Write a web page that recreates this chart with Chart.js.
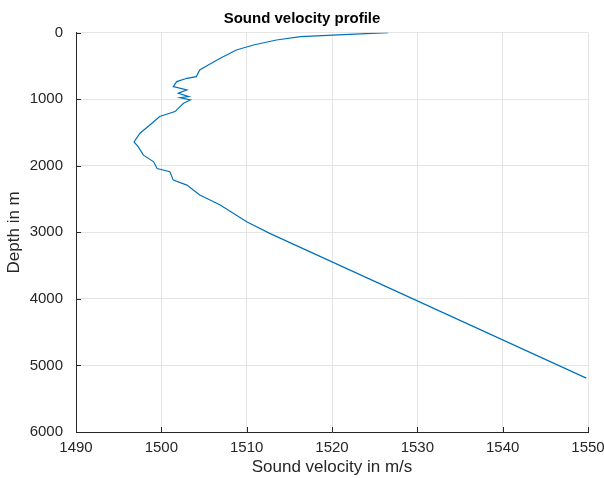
<!DOCTYPE html>
<html>
<head>
<meta charset="utf-8">
<script src="https://cdn.jsdelivr.net/npm/chart.js@4"></script>
<style>
  html, body { margin: 0; padding: 0; background: #fff; }
  canvas { display: block; }
</style>
</head>
<body>
<canvas id="svpChart" width="604" height="478"></canvas>
<script>
// Sound velocity profile
const velocity = [1526.6, 1520.1, 1516.3, 1513.5, 1510.8, 1508.8, 1506.9, 1505.5, 1504.5, 1504.1,
                  1503.0, 1501.8, 1501.4, 1503.0, 1502.0, 1503.2, 1502.2, 1503.4, 1502.6, 1501.6,
                  1499.8, 1498.9, 1497.5, 1496.8, 1497.3, 1497.9, 1499.1, 1499.5, 1501.0, 1501.4,
                  1503.0, 1504.5, 1506.9, 1510.0, 1512.7, 1549.8];
const depth = [0, 35, 60, 110, 185, 260, 385, 485, 560, 660,
               685, 735, 810, 860, 910, 960, 975, 1010, 1060, 1185,
               1260, 1360, 1510, 1640, 1715, 1840, 1940, 2040, 2090, 2215,
               2290, 2440, 2590, 2840, 3015, 5190];
const xTicks = [1490, 1500, 1510, 1520, 1530, 1540, 1550];
const yTicks = [0, 1000, 2000, 3000, 4000, 5000, 6000];

const FONT = '"Liberation Sans", Arial, Helvetica, sans-serif';
const TEXT = '#262626';

// small inward tick marks like Octave/MATLAB axes
const innerTicks = {
    id: 'innerTicks',
    afterDraw(chart) {
        const ctx = chart.ctx;
        const xs = chart.scales.x, ys = chart.scales.y;
        const a = chart.chartArea;
        ctx.save();
        ctx.strokeStyle = TEXT;
        ctx.lineWidth = 1;
        ctx.beginPath();
        xTicks.forEach(v => {
            const px = Math.round(xs.getPixelForValue(v)) + 0.5;
            ctx.moveTo(px, a.bottom);
            ctx.lineTo(px, a.bottom - 5);
        });
        yTicks.forEach(v => {
            const py = Math.round(ys.getPixelForValue(v)) + 0.5;
            ctx.moveTo(a.left, py);
            ctx.lineTo(a.left + 5, py);
        });
        ctx.stroke();
        ctx.restore();
    }
};

const points = velocity.map((v, i) => ({ x: v, y: depth[i] }));

new Chart(document.getElementById('svpChart'), {
    type: 'scatter',
    data: {
        datasets: [{
            data: points,
            showLine: true,
            borderColor: '#0072BD',
            borderWidth: 1.2,
            pointRadius: 0,
            tension: 0,
            fill: false
        }]
    },
    options: {
        responsive: false,
        animation: false,
        layout: { padding: 0 },
        plugins: {
            legend: { display: false },
            tooltip: { enabled: false },
            title: {
                display: true,
                text: 'Sound velocity profile',
                color: '#000',
                font: { family: FONT, size: 15, weight: 'bold' },
                padding: { top: 9.5, bottom: 5.2 }
            }
        },
        scales: {
            x: {
                type: 'linear',
                min: 1490,
                max: 1550,
                afterBuildTicks: s => { s.ticks = xTicks.map(v => ({ value: v })); },
                afterFit: s => { s.height = 46; s.paddingRight = 16; },
                ticks: { color: TEXT, padding: 7, font: { family: FONT, size: 15 }, callback: v => String(v) },
                grid: { color: '#e5e5e5', drawTicks: false },
                border: { color: TEXT, width: 1 },
                title: {
                    display: true,
                    text: 'Sound velocity in m/s',
                    color: TEXT,
                    font: { family: FONT, size: 17 },
                    padding: { top: 0, bottom: 0 }
                }
            },
            y: {
                type: 'linear',
                reverse: true,
                min: 0,
                max: 6000,
                afterBuildTicks: s => { s.ticks = yTicks.map(v => ({ value: v })); },
                afterFit: s => { s.width = 76; },
                ticks: { color: TEXT, padding: 13, font: { family: FONT, size: 15 }, callback: v => String(v) },
                grid: { color: '#e5e5e5', drawTicks: false },
                border: { color: TEXT, width: 1 },
                title: {
                    display: true,
                    text: 'Depth in m',
                    color: TEXT,
                    font: { family: FONT, size: 17 },
                    padding: { top: 4, bottom: 0 }
                }
            }
        }
    },
    plugins: [innerTicks]
});
</script>
</body>
</html>
